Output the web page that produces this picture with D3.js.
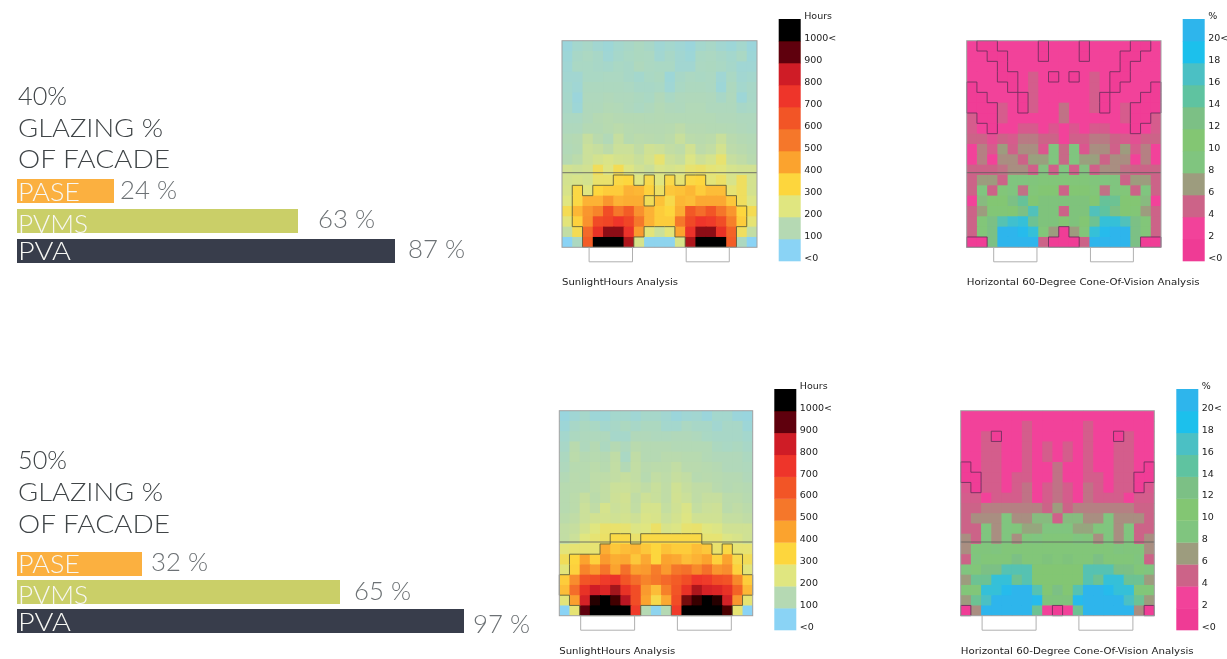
<!DOCTYPE html>
<html><head><meta charset="utf-8">
<script src="https://cdn.jsdelivr.net/npm/d3@7"></script>
<style>html,body{margin:0;padding:0;background:#fff}svg{display:block}</style>
</head><body><svg id="c" width="1227" height="659"></svg>
<script>
const barNames = ["PASE","PVMS","PVA"];
const barColors = ["#fbb040","#cacf68","#373d4b"];
const glazing = ["40%","50%"];
const values40 = [24,63,87];
const values50 = [32,65,97];
const barDomain = [0,24,32,63,65,87,97];
const barRange = [0,97,125,281,323,378,447];

const hourLabels = ["<0","100","200","300","400","500","600","700","800","900","1000<"];
const hourDomain = [0,100,200,300,400,500,600,700,800,900,1000];
const hourColors = ["#8ad3f5","#b5d9b3","#e0e680","#fdd63e","#fba32f","#f5772a","#f25527","#ee3429","#cf1f26","#5f0308","#000000"];
const pctLabels = ["<0","2","4","6","8","10","12","14","16","18","20<"];
const pctDomain = [0,2,4,6,8,10,12,14,16,18,20];
const pctColors = ["#ef3a95","#f2439a","#cc6488","#9d9c7e","#80c57f","#83c673","#7bc085","#5fc3a0","#4cc0c4","#1fc0ec","#2eb5ec"];

const sun40 = [
[40,60,70,55,45,60,70,80,70,50,60,50,40,60,70,55,45,60,40],
[45,70,78,70,50,65,75,80,78,55,70,55,45,75,78,70,60,75,45],
[50,75,75,70,65,75,70,85,78,75,75,55,55,78,80,75,65,50,50],
[55,55,75,75,78,78,70,60,75,80,45,70,78,75,78,50,75,55,60],
[60,50,82,82,82,82,78,70,70,75,50,75,82,82,78,45,82,60,70],
[65,40,85,85,90,85,85,80,75,90,75,85,88,88,85,70,85,45,70],
[70,45,88,88,95,92,85,78,85,95,88,85,92,92,85,85,85,70,75],
[78,78,90,100,105,100,98,98,95,98,95,95,95,95,95,90,90,85,85],
[85,85,98,98,105,115,105,102,102,102,105,118,102,102,98,98,95,90,85],
[95,100,140,110,92,140,105,115,110,105,115,145,115,110,115,145,110,100,95],
[92,98,150,140,118,150,150,125,160,150,130,120,165,118,130,170,118,110,100],
[100,115,150,170,185,170,165,145,170,225,155,140,190,155,175,225,140,125,108],
[165,155,165,255,195,265,195,165,148,185,175,185,225,235,215,205,175,165,165],
[170,180,170,230,230,290,300,200,280,200,285,220,290,300,210,240,180,250,170],
[180,290,200,300,320,320,370,360,310,240,330,340,360,320,350,350,220,250,170],
[200,290,370,370,430,370,380,380,260,340,280,360,350,390,390,390,330,250,190],
[270,360,430,470,620,500,580,440,370,320,300,380,590,530,600,510,430,300,270],
[210,310,440,630,650,700,650,500,370,320,320,500,640,700,680,620,480,320,220],
[130,270,540,720,860,860,710,420,210,150,210,400,710,860,860,720,560,250,130],
[0,80,580,1000,1000,1000,830,180,10,10,10,180,830,1000,1000,1000,580,80,0]];

const cone40 = [
[2,.5,.5,2,2,2,2,.5,2,2,2,.5,2,2,2,2,.5,.5,2],
[2,2,.5,.5,2,2,2,.5,2,2,2,.5,2,2,2,.5,.5,2,2],
[2,2,2,.5,2,2,2,2,2,2,2,2,2,2,2,.5,2,2,2],
[2,2,2,.5,.5,2,3.6,2,.5,2,.5,2,3.6,2,.5,.5,2,2,2],
[.5,2,2,2,.5,2,3.6,2,2,2,2,2,3.6,2,.5,2,2,2,.5],
[.5,.5,2,2,2,.5,3.6,2,2,2,2,2,3.6,.5,2,2,2,.5,.5],
[.5,.5,.5,3.5,2,.5,3.6,2,2,4.5,2,2,3.6,.5,2,3.5,.5,.5,.5],
[3.5,.5,.5,3.5,2,2,2,2,2,4.5,2,2,2,2,2,3.5,.5,.5,3.5],
[3.5,2,.5,2,2,3.4,3.4,2,3.2,2,3.2,2,3.4,3.4,2,2,.5,2,3.5],
[4,4,2.8,4,3.5,4.8,4.8,4,4,2,3.8,3.8,4.8,4.8,4,3.5,2.8,4,4],
[2,5,3.5,6,3.8,5.5,5.5,3.2,8,4.2,8,3.2,5.5,5.5,3.8,6,3.5,5,2],
[2,5,2,5.5,5.5,4,6.2,6.2,8,4.2,8,6.2,6.2,4,5.5,5.5,2,5,2],
[4,4,4,4.5,5.5,5.5,3.8,7.8,3.8,8,3.8,7.8,3.8,5.5,5.5,4.5,4,4,4],
[4,6,6,4,8,8,8.5,9,9,9,9,9,8.5,8,8,4,6,6,4],
[4,8,4,9,8,4.5,9,10,10,4,10,10,9,4.5,8,9,4,8,4],
[2,7.5,10,10,12,13.5,10,11,11,11,11,11,10,13.5,13,10,10,7.5,2],
[4,6,9.5,9.5,10,12,15.5,11,11,4,11,11,15.5,14,12,10,9.5,6,4],
[4,9,12,15,16.5,17,13,11,11,10,11,10,13,17,17,15.5,12,9,4],
[4,9,12,20,20,19,17,9,6,.5,6,9,17,19,20,20,12,9,4],
[.5,.5,12,20,20,20,20,4,.5,.5,.5,4,20,20,20,20,12,.5,.5]];

const sun50 = [
[35,50,65,45,45,60,60,50,65,65,55,40,50,55,40,60,60,40,35],
[45,70,80,75,60,70,80,70,80,80,60,60,78,70,70,55,70,70,45],
[60,80,85,85,85,65,65,90,90,85,85,90,90,85,75,70,70,70,60],
[70,110,85,100,80,100,85,110,100,100,100,95,95,95,95,80,75,80,70],
[80,115,100,105,100,125,75,125,100,100,110,110,105,105,95,90,90,90,80],
[85,105,105,115,105,130,95,130,110,115,115,130,110,110,105,100,90,90,85],
[95,110,105,120,120,130,140,130,105,130,120,140,130,105,110,105,100,100,90],
[105,110,110,120,130,150,150,140,125,145,125,160,140,125,125,110,100,105,100],
[105,115,140,115,130,155,165,125,155,145,125,165,150,125,140,140,115,115,105],
[105,115,150,125,175,150,160,130,175,175,135,160,185,135,150,155,115,125,115],
[115,125,150,165,170,160,170,155,185,180,150,170,195,160,160,160,135,135,125],
[130,140,170,200,230,230,225,190,200,240,180,190,225,230,200,190,160,160,160],
[130,150,200,220,240,290,290,230,290,290,290,290,290,290,220,220,190,180,160],
[210,220,220,220,380,330,350,360,330,300,340,320,320,350,330,230,290,220,220],
[260,300,400,310,420,380,390,330,390,300,400,390,350,370,400,310,400,280,260],
[210,310,470,420,510,400,520,410,420,490,420,500,520,460,520,430,450,310,210],
[320,450,600,620,680,710,600,530,470,500,540,580,620,700,680,620,610,460,320],
[350,530,720,800,760,840,720,620,420,350,480,600,720,830,780,760,720,560,360],
[210,410,780,960,1000,930,820,620,400,280,390,620,880,940,1000,960,790,430,220],
[0,220,900,1000,1000,1000,1000,680,100,10,100,680,1000,1000,1000,1000,920,220,0]];

const cone50 = [
[2,2,2,2,2,2,2,2,2,2,2,2,2,2,2,2,2,2,2],
[2,2,2,2,2,2,3.6,2,2,2,2,2,3.6,2,2,2,2,2,2],
[2,2,3.6,.5,2,2,3.6,2,2,2,2,2,3.6,2,2,.5,3.6,2,2],
[2,2,3.6,3.6,2,2,3.6,2,3.6,2,3.6,2,3.6,2,2,3.6,3.6,2,2],
[2,2,3.6,3.6,2,2,3.6,2,3.6,2,3.6,2,3.6,2,2,3.6,3.6,2,2],
[.5,2,3.6,3.6,2,2,3.6,2,2,4.5,2,2,3.6,2,2,3.6,3.6,2,.5],
[.5,.5,3.6,3.6,2,3.6,3.6,2,2,4.5,2,2,3.6,3.6,2,3.6,3.6,.5,.5],
[3.2,.5,3.6,3.6,2,3.6,4.5,2,3.6,4.5,3.6,2,4.5,3.6,2,3.6,3.6,.5,3.2],
[3.6,3.6,2,3.6,3.6,3.6,4.5,2,3.6,4.5,3.6,2,4.5,3.6,3.6,3.6,2,3.6,3.6],
[4,4,5,5,5,5,5,5,4,6,4,5,5,5,5,5,5,4,4],
[4,5.5,5.5,5.5,8,5.5,5.5,7.5,7.5,3.8,7.5,7.5,5.5,5.5,8,5.5,5.5,5.5,4],
[4,4,8,5.5,8,8.5,6.5,6.5,8,8,8,6.5,6.5,8.5,8,5.5,8,4,4],
[5.5,4,8,5.5,8,5.5,8.5,8,9,9,9,8,8.5,5.5,8,5.5,8,4,5.5],
[5.5,8.5,8.5,8,9,9,9,9,9,9,9,9,9,9,9,8,8.5,8.5,5.5],
[4,8,9,9,9,12,9,9,11,9,11,9,9,12,9,9,9,8,4],
[8,9,12,12,15,15,15,10,10,10,10,10,15,15,15,12,12,9,8],
[6,13,13,17,17,13,15,10,10,10,10,10,15,13,17,17,13,13,6],
[9,9,17,17,19,20,20,15,10,12,10,15,20,20,19,17,17,9,9],
[6,13,16,20,20,20,20,19,11,11,11,19,20,20,20,20,16,13,6],
[.5,5.5,20,20,20,20,20,13,2,.5,2,13,20,20,20,20,20,5.5,.5]];

const svg = d3.select("#c");
const defs = svg.append("defs");
defs.append("filter").attr("id","soft").attr("x","-2%").attr("y","-2%").attr("width","104%").attr("height","104%")
  .append("feGaussianBlur").attr("stdDeviation",0.4);
const root = svg.append("g").attr("filter","url(#soft)");
const headFont = "Lato, 'Open Sans', sans-serif";
const smallFont = "'DejaVu Sans', sans-serif";
const barX = d3.scaleLinear().domain(barDomain).range(barRange);

function txt(g,s,x,y,size,fill,len,weight){
  const t=g.append("text").attr("x",x).attr("y",y).text(s)
    .attr("font-family",headFont).attr("font-size",size).attr("font-weight",weight||300).attr("fill",fill);
  if(len) t.attr("textLength",len).attr("lengthAdjust","spacingAndGlyphs");
  return t;
}
function barPanel(p){
  const g=root.append("g");
  const hd=[[p.title,49],["GLAZING %",145],["OF FACADE",152]];
  hd.forEach((h,i)=>txt(g,h[0],18,p.headY[i],25,"#3f4447",h[1],300));
  barNames.forEach((n,i)=>{
    const v=p.values[i], w=barX(v), top=p.barTop[i];
    g.append("rect").attr("x",17).attr("y",top).attr("width",w).attr("height",24).attr("fill",barColors[i]);
    const nameLen={PASE:62,PVMS:70,PVA:53}[n];
    txt(g,n,18,p.nameY[i],25,"#f7f7f3",nameLen,300);
    txt(g,v+" %",17+w+p.gap[i],p.valY[i],25,"#6c7174",57,300);
  });
}
barPanel({title:glazing[0],values:values40,headY:[105,136.7,168.3],barTop:[179,209,239],nameY:[200.7,233,260],valY:[199,227.7,257.7],gap:[6,20,13]});
barPanel({title:glazing[1],values:values50,headY:[469.3,501,532.7],barTop:[552,580,609],nameY:[572.7,603.5,631],valY:[571,600,632.7],gap:[9,14,9]});

let clipId=0;
function heat(o){
  const g=root.append("g");
  const rows=o.data.length, cols=o.data[0].length;
  const x=d3.scaleLinear().domain([0,cols]).range([o.x0,o.x1]);
  const y=d3.scaleLinear().domain([0,rows]).range([o.y0,o.y1]);
  const col=d3.scaleLinear().domain(o.domain).range(o.colors).clamp(true);
  const id="hc"+(clipId++);
  defs.append("clipPath").attr("id",id).append("rect").attr("x",o.x0).attr("y",o.y0).attr("width",o.x1-o.x0).attr("height",o.y1-o.y0);
  const cells=g.append("g").attr("clip-path",`url(#${id})`);
  o.data.forEach((row,r)=>row.forEach((v,c)=>{
    cells.append("rect").attr("x",x(c)).attr("y",y(r)).attr("width",x(c+1)-x(c)+1).attr("height",y(r+1)-y(r)+1).attr("fill",col(v));
  }));
  const inMask=(r,c)=>r>=0&&r<rows&&c>=0&&c<cols&&o.mask(o.data[r][c]);
  const p=d3.path();
  o.data.forEach((row,r)=>row.forEach((v,c)=>{
    if(!inMask(r,c))return;
    if(!inMask(r-1,c)){p.moveTo(x(c),y(r));p.lineTo(x(c+1),y(r));}
    if(!inMask(r+1,c)){p.moveTo(x(c),y(r+1));p.lineTo(x(c+1),y(r+1));}
    if(!inMask(r,c-1)){p.moveTo(x(c),y(r));p.lineTo(x(c),y(r+1));}
    if(!inMask(r,c+1)){p.moveTo(x(c+1),y(r));p.lineTo(x(c+1),y(r+1));}
  }));
  g.append("path").attr("d",p.toString()).attr("fill","none").attr("stroke",o.outline).attr("stroke-opacity",.85).attr("stroke-width",1);
  g.append("line").attr("x1",o.x0).attr("x2",o.x1).attr("y1",o.lineY).attr("y2",o.lineY).attr("stroke","#5f5f5f").attr("stroke-opacity",.85).attr("stroke-width",1);
  g.append("rect").attr("x",o.x0).attr("y",o.y0).attr("width",o.x1-o.x0).attr("height",o.y1-o.y0).attr("fill","none").attr("stroke","#a0a0a0").attr("stroke-width",1);
  o.windows.forEach(w=>{
    g.append("path").attr("d",`M${x(w[0])},${o.y1}V${o.y1+14.5}H${x(w[1])}V${o.y1}`).attr("fill","none").attr("stroke","#b0b0b0").attr("stroke-width",1);
  });
  g.append("text").attr("x",o.x0).attr("y",o.y1+38).text(o.caption).attr("font-family",smallFont).attr("font-size",9).attr("fill","#222").attr("textLength",o.capLen).attr("lengthAdjust","spacingAndGlyphs");
  const n=o.labels.length;
  const ly=d3.scaleBand().domain(d3.range(n)).range([o.ly1,o.ly0]);
  o.colors.forEach((c,i)=>{
    g.append("rect").attr("x",o.lx).attr("y",ly(i)).attr("width",22).attr("height",ly.bandwidth()+.3).attr("fill",c);
    g.append("text").attr("x",o.lx+25.5).attr("y",ly(i)+ly.bandwidth()-3.4).attr("dy","0.35em").text(o.labels[i])
      .attr("font-family",smallFont).attr("font-size",9.5).attr("fill","#222");
  });
  g.append("text").attr("x",o.lx+25.5).attr("y",o.ly0-3.4).attr("dy","0.35em").text(o.unit).attr("font-family",smallFont).attr("font-size",9.5).attr("fill","#222");
}
const sunOpt={domain:hourDomain,colors:hourColors,labels:hourLabels,unit:"Hours",caption:"SunlightHours Analysis",capLen:116,mask:v=>v>=275,outline:"#5a5a3a"};
const coneOpt={domain:pctDomain,colors:pctColors,labels:pctLabels,unit:"%",caption:"Horizontal 60-Degree Cone-Of-Vision Analysis",capLen:233,mask:v=>v<1.5,outline:"#6b2f5c"};
heat({...sunOpt,data:sun40,x0:562,x1:757,y0:40.7,y1:247.3,lineY:172.7,lx:778.7,ly0:19,ly1:261,windows:[[2.64,6.87],[12.1,16.3]]});
heat({...coneOpt,data:cone40,x0:966.7,x1:1161,y0:40.7,y1:247.3,lineY:172.7,lx:1182.7,ly0:19,ly1:261,windows:[[2.64,6.87],[12.1,16.3]]});
heat({...sunOpt,data:sun50,x0:559.3,x1:752.7,y0:410.7,y1:615.7,lineY:542,lx:774.3,ly0:389,ly1:630,windows:[[2.1,7.4],[11.6,16.9]]});
heat({...coneOpt,data:cone50,x0:960.7,x1:1154.3,y0:410.7,y1:615.7,lineY:542,lx:1176.3,ly0:389,ly1:630,windows:[[2.1,7.4],[11.6,16.9]]});
</script></body></html>
